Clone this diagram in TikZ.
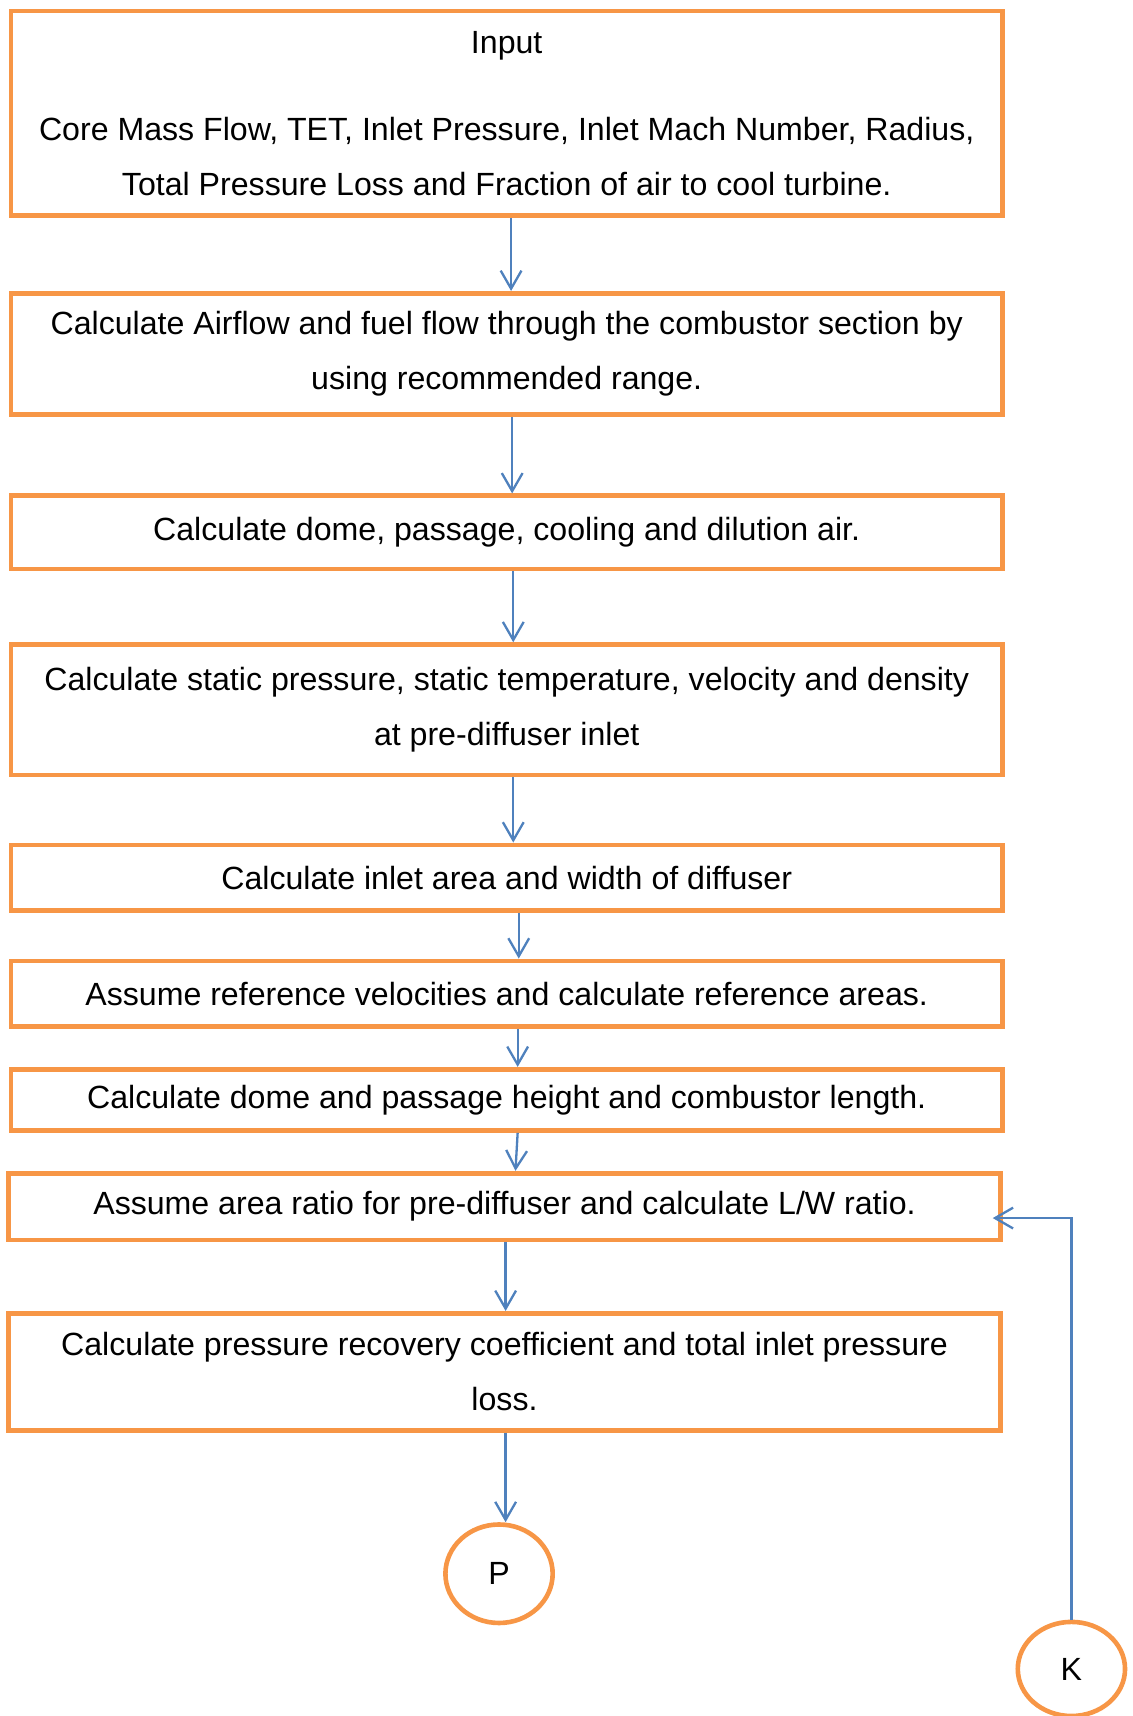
\documentclass[tikz,border=0pt]{standalone}
\usepackage{fontspec}
\setmainfont{Liberation Sans}
\usepackage{tikz}
\usetikzlibrary{shapes.geometric}
\usetikzlibrary{arrows.meta}

\definecolor{boxorange}{RGB}{247,150,70}
\definecolor{lineblue}{RGB}{79,129,189}

\tikzset{
  stepbox/.style={draw=boxorange, line width=2.4pt, rectangle, minimum width=18.12cm,
    align=center, inner sep=0pt, font=\fontsize{16.7pt}{28.45pt}\selectfont},
  endcircle/.style={draw=boxorange, line width=2.4pt, ellipse, minimum width=1.96cm,
    minimum height=1.8cm, inner sep=0pt, font=\fontsize{16.7pt}{19pt}\selectfont},
  conn/.style={draw=lineblue, line width=1.2pt, -{Straight Barb[length=0.33cm, width=0.38cm]}}
}

\begin{document}
\begin{tikzpicture}

 \useasboundingbox (0,0) rectangle (20.7,-31.36);

 % Input box
 \node [stepbox, minimum height=3.74cm] (input) at (9.26,-2.07)
   {Input\\[0.6cm] Core Mass Flow, TET, Inlet Pressure, Inlet Mach Number, Radius,\\
    Total Pressure Loss and Fraction of air to cool turbine.};

 % Calculation steps
 \node [stepbox, minimum height=2.22cm] (airflow) at (9.26,-6.47)
   {Calculate Airflow and fuel flow through the combustor section by\\ using recommended range.};
 \node [stepbox, minimum height=1.34cm] (dome) at (9.26,-9.73)
   {Calculate dome, passage, cooling and dilution air.};
 \node [stepbox, minimum height=2.38cm] (static) at (9.26,-12.97)
   {Calculate static pressure, static temperature, velocity and density\\ at pre-diffuser inlet};
 \node [stepbox, minimum height=1.2cm] (inlet) at (9.26,-16.04)
   {Calculate inlet area and width of diffuser};
 \node [stepbox, minimum height=1.2cm] (refvel) at (9.26,-18.16)
   {Assume reference velocities and calculate reference areas.};
 \node [stepbox, minimum height=1.12cm] (height) at (9.26,-20.10)
   {Calculate dome and passage height and combustor length.};
 \node [stepbox, minimum height=1.22cm] (ratio) at (9.22,-22.05)
   {Assume area ratio for pre-diffuser and calculate L/W ratio.};
 \node [stepbox, minimum height=2.14cm] (recovery) at (9.22,-25.07)
   {Calculate pressure recovery coefficient and total inlet pressure\\ loss.};

 % Connectors
 \node [endcircle] (P) at (9.12,-28.76) {P};
 \node [endcircle, minimum height=1.72cm] (K) at (19.58,-30.5) {K};

 % Arrows down the chain
 \draw [conn] ([xshift=0.08cm]input.south) -- ([xshift=0.08cm]airflow.north);
 \draw [conn] ([xshift=0.1cm]airflow.south) -- ([xshift=0.1cm]dome.north);
 \draw [conn] ([xshift=0.12cm]dome.south) -- ([xshift=0.12cm]static.north);
 \draw [conn] ([xshift=0.12cm]static.south) -- ([xshift=0.12cm]inlet.north);
 \draw [conn] ([xshift=0.22cm]inlet.south) -- ([xshift=0.22cm]refvel.north);
 \draw [conn] ([xshift=0.2cm]refvel.south) -- ([xshift=0.2cm]height.north);
 \draw [conn] ([xshift=0.2cm]height.south) -- ([xshift=0.2cm]ratio.north);
 \draw [conn] ([xshift=0.02cm]ratio.south) -- ([xshift=0.02cm]recovery.north);
 \draw [conn] ([xshift=0.02cm]recovery.south) -- ([xshift=0.02cm]recovery.south |- P.north);

 % Loop back from K
 \coordinate (loopin) at ([yshift=-0.21cm, xshift=-0.18cm]ratio.east);
 \draw [conn] (K.north) |- (loopin);

\end{tikzpicture}
\end{document}
